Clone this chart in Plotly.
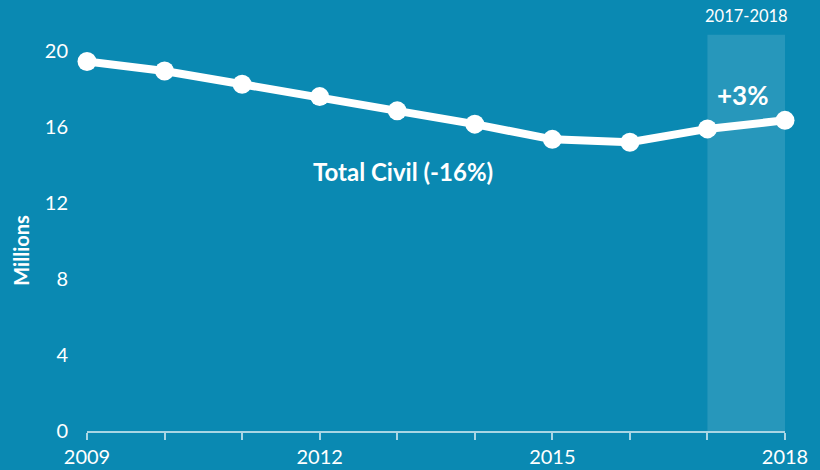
import plotly.graph_objects as go

years = [2009, 2010, 2011, 2012, 2013, 2014, 2015, 2016, 2017, 2018]
total_civil = [19.45, 18.95, 18.25, 17.6, 16.85, 16.15, 15.35, 15.2, 15.9, 16.35]
x_tick_labels = ["2009", "", "", "2012", "", "", "2015", "", "", "2018"]
y_ticks = [0, 4, 8, 12, 16, 20]

BG = "#0A89B2"
FONT = "Lato, 'Open Sans', sans-serif"

fig = go.Figure()
fig.add_shape(type="rect", xref="x", yref="y", x0=2017, x1=2018, y0=0, y1=20.85,
              fillcolor="rgba(255,255,255,0.12)", line_width=0, layer="below")
fig.add_trace(go.Scatter(x=years, y=total_civil, mode="lines+markers",
                         line=dict(color="white", width=8),
                         marker=dict(color="white", size=19),
                         cliponaxis=False, hoverinfo="skip", showlegend=False))

fig.add_annotation(x=2013.07, y=13.65, xref="x", yref="y", text="<b>Total Civil (-16%)</b>",
                   showarrow=False, font=dict(color="white", size=24, family=FONT),
                   xanchor="center", yanchor="middle")
fig.add_annotation(x=2017.45, y=17.7, xref="x", yref="y", text="<b>+3%</b>",
                   showarrow=False, font=dict(color="white", size=26, family=FONT),
                   xanchor="center", yanchor="middle")
fig.add_annotation(x=2017.5, y=1.0, xref="x", yref="paper", yshift=16, text="2017-2018",
                   showarrow=False, font=dict(color="white", size=16.5, family=FONT),
                   xanchor="center", yanchor="middle")
fig.add_annotation(x=-0.094, y=0.453, xref="paper", yref="paper", text="<b>Millions</b>",
                   textangle=-90, showarrow=False, font=dict(color="white", size=20, family=FONT),
                   xanchor="center", yanchor="middle")

fig.update_layout(
    width=820, height=470,
    paper_bgcolor=BG, plot_bgcolor=BG,
    margin=dict(l=87, r=35, t=32, b=39),
    font=dict(family=FONT, color="white", size=20),
    xaxis=dict(range=[2009, 2018], tickvals=years, ticktext=x_tick_labels,
               showgrid=False, zeroline=False, showline=True, automargin=False,
               linecolor="rgba(255,255,255,0.65)", linewidth=1.5,
               ticks="outside", ticklen=7, tickcolor="rgba(255,255,255,0.65)", tickwidth=1.5,
               tickfont=dict(size=20, color="white")),
    yaxis=dict(range=[0, 21], tickvals=y_ticks, showgrid=False, zeroline=False,
               showline=False, ticks="", ticklabelstandoff=18, automargin=False,
               tickfont=dict(size=20, color="white")),
)

fig.write_html("out.html", config={"displayModeBar": False},
               post_script="document.body.style.margin='0';document.body.style.background='" + BG + "';")
